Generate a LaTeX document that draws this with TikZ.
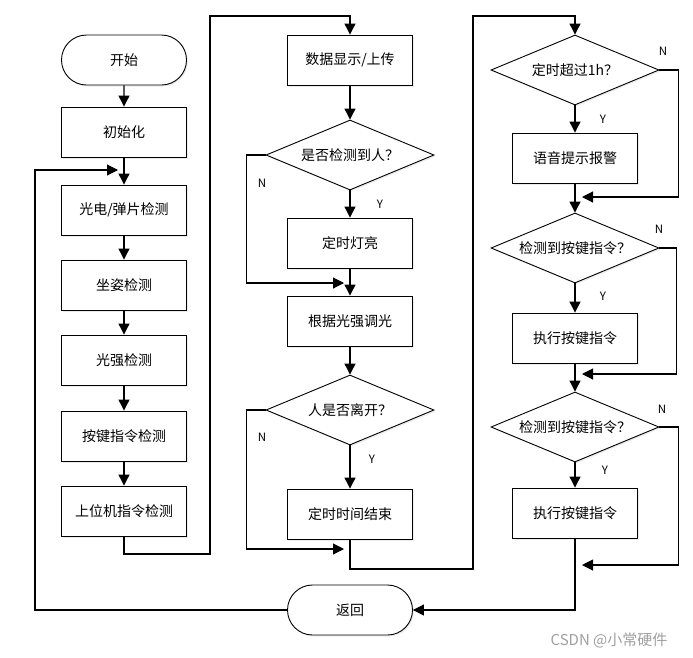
\documentclass[tikz,border=0pt]{standalone}
\usepackage{fontspec}
\setmainfont{Noto Sans CJK SC}
\usepackage{tikz}
\usetikzlibrary{
  shapes.misc,
  shapes.geometric,
  arrows.meta,
  shadows
}

\begin{document}
\begin{tikzpicture}[%样式设置
        x=1pt,y=-1pt,
        line width=1.1pt,
        every node/.style={
            font=\fontsize{14}{16}\selectfont
          },
        proc/.style={
            draw,fill=white,
            minimum width=125pt,minimum height=50pt,
            inner sep=0pt,line width=0.9pt,
            drop shadow={
                opacity=0.15,
                shadow xshift=1.5pt,
                shadow yshift=-1.5pt
              }
          },term/.style={
            proc,rounded rectangle
          },judge/.style={
            proc,diamond,aspect=2.4,
            minimum width=168pt,minimum height=70pt
          },yn/.style={
            font=\fontsize{11.5}{13}\selectfont
          },arr/.style={
            -{Triangle[width=11pt,length=11pt]}
          }
      ]
      \useasboundingbox (0,0) rectangle (693,657);

      % 左列
      \node (start) [term] at (124,60) {开始};
      \node (init) [proc] at (124,132) {初始化};
      \node (gdtp) [proc] at (124,210) {光电/弹片检测};
      \node (zzjc) [proc] at (124,285) {坐姿检测};
      \node (gqjc) [proc] at (124,360) {光强检测};
      \node (ajjc) [proc] at (124,436) {按键指令检测};
      \node (swjc) [proc] at (124,511) {上位机指令检测};

      % 中列
      \node (sjxs) [proc] at (350,60) {数据显示/上传};
      \node (jcdr) [judge] at (350,155) {是否检测到人？};
      \node (dsdl) [proc] at (350,243) {定时灯亮};
      \node (gqtg) [proc] at (350,321) {根据光强调光};
      \node (rlk) [judge] at (350,410) {人是否离开？};
      \node (dsjs) [proc] at (350,514) {定时时间结束};
      \node (back) [term] at (350,610) {返回};

      % 右列
      \node (cs1h) [judge] at (575,70) {定时超过1h？};
      \node (yyts) [proc] at (575,158) {语音提示报警};
      \node (ajzl1) [judge] at (575,248) {检测到按键指令？};
      \node (zxzl1) [proc] at (575,338) {执行按键指令};
      \node (ajzl2) [judge] at (575,427) {检测到按键指令？};
      \node (zxzl2) [proc] at (575,513) {执行按键指令};

      % 转折点
      \coordinate (l1bot) at (210,554);
      \coordinate (l1top) at (210,16);
      \coordinate (l2bot) at (473,569);
      \coordinate (l2top) at (473,16);
      \coordinate (loopL) at (35,170);
      \coordinate (loopT) at (118,170);
      \coordinate (j1) at (344,283);
      \coordinate (j2) at (344,549);
      \coordinate (j3) at (582,197);
      \coordinate (j4) at (582,374);
      \coordinate (j5) at (582,565);

      % 顺序箭头
      \foreach \a/\b in {start/init,init/gdtp,gdtp/zzjc,zzjc/gqjc,gqjc/ajjc,ajjc/swjc,
          sjxs/jcdr,jcdr/dsdl,dsdl/gqtg,gqtg/rlk,rlk/dsjs,
          cs1h/yyts,yyts/ajzl1,ajzl1/zxzl1,zxzl1/ajzl2,ajzl2/zxzl2}
        \draw[arr] (\a) -- (\b);

      % 列间连线
      \draw[arr] (swjc.south) |- (l1bot) -- (l1top) -| (sjxs.north);
      \draw[arr] (dsjs.south) |- (l2bot) -- (l2top) -| (cs1h.north);
      \draw[arr] (zxzl2.south) |- (back.east);
      \draw[arr] (back.west) -| (loopL) -- (loopT);

      % 分支 N
      \draw[arr] (jcdr.west) -- ++(-19,0) |- (j1);
      \draw[arr] (rlk.west) -- ++(-19,0) |- (j2);
      \draw[arr] (cs1h.east) -- ++(19,0) |- (j3);
      \draw[arr] (ajzl1.east) -- ++(17,0) |- (j4);
      \draw[arr] (ajzl2.east) -- ++(19,0) |- (j5);

      % Y/N 标注
      \node (y1) [yn] at (380,204) {Y};
      \node (n1) [yn] at (262,183) {N};
      \node (y2) [yn] at (372,459) {Y};
      \node (n2) [yn] at (262,437) {N};
      \node (y3) [yn] at (603,119) {Y};
      \node (n3) [yn] at (663,51) {N};
      \node (y4) [yn] at (603,296) {Y};
      \node (n4) [yn] at (659,229) {N};
      \node (y5) [yn] at (605,470) {Y};
      \node (n5) [yn] at (662,409) {N};

      \node (sign) [font=\fontsize{15}{18}\selectfont,text=gray!75] at (609,640) {CSDN @小常硬件};

    \end{tikzpicture}
\end{document}
